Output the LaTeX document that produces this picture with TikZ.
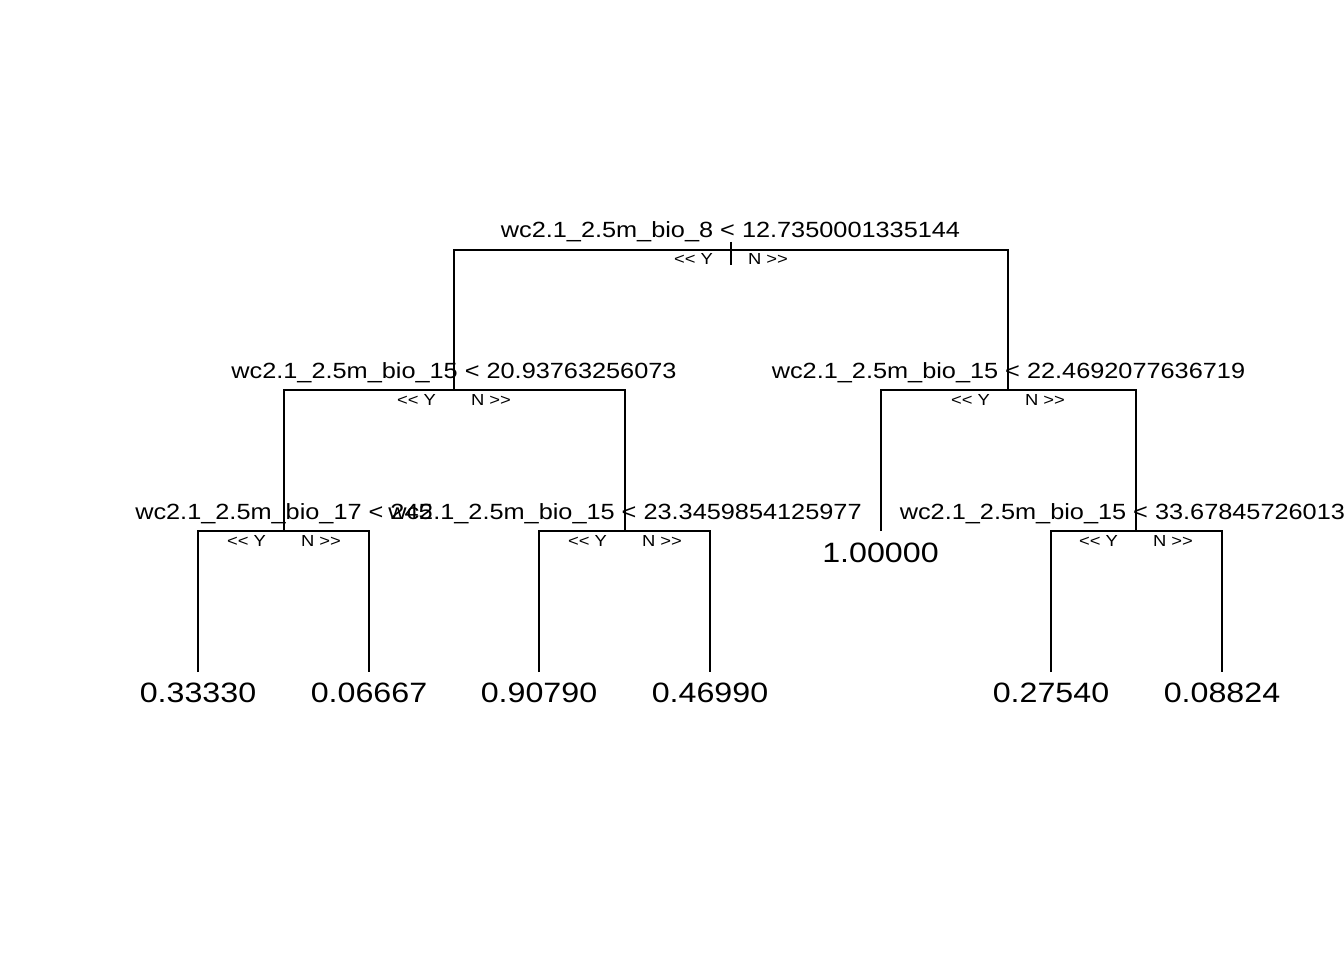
\documentclass[tikz,border=0pt]{standalone}
\usepackage{fontspec}
\newfontfamily\rf[FakeStretch=1.15]{Liberation Sans}
\begin{document}
\begin{tikzpicture}[x=1pt,y=-1pt,line width=2pt,
  splitlab/.style={font=\rf\fontsize{22}{26}\selectfont,anchor=base,inner sep=0pt},
  leaflab/.style={font=\rf\fontsize{28}{32}\selectfont,anchor=base,inner sep=0pt},
  ylab/.style={font=\rf\fontsize{16}{19}\selectfont,anchor=base east,inner sep=0pt},
  nlab/.style={font=\rf\fontsize{16}{19}\selectfont,anchor=base west,inner sep=0pt},
  edge/.style={draw=black,line width=2pt}]
\useasboundingbox (0,0) rectangle (1344,960);
\clip (0,0) rectangle (1344,960);
% tree node positions
\coordinate (n1) at (731,250);
\coordinate (n2) at (454,390);
\coordinate (n3) at (1008,390);
\coordinate (n4) at (284,531);
\coordinate (n5) at (625,531);
\coordinate (n6) at (881,531);
\coordinate (n7) at (1136,531);
\coordinate (n8) at (198,672);
\coordinate (n9) at (369,672);
\coordinate (n10) at (539,672);
\coordinate (n11) at (710,672);
\coordinate (n12) at (1051,672);
\coordinate (n13) at (1222,672);
\coordinate (rt) at (731,242);
\coordinate (rb) at (731,265);
% connectors
\draw[edge] (rt) -- (rb);
\draw[edge] (n2) |- (n1) -| (n3);
\draw[edge] (n4) |- (n2) -| (n5);
\draw[edge] (n6) |- (n3) -| (n7);
\draw[edge] (n8) |- (n4) -| (n9);
\draw[edge] (n10) |- (n5) -| (n11);
\draw[edge] (n12) |- (n7) -| (n13);
% split labels
\node[splitlab] (s1) at (730.5,238) {wc2.1\_2.5m\_bio\_8 < 12.7350001335144};
\node[splitlab] (s2) at (454,378) {wc2.1\_2.5m\_bio\_15 < 20.93763256073};
\node[splitlab] (s3) at (1008.5,378) {wc2.1\_2.5m\_bio\_15 < 22.4692077636719};
\node[splitlab] (s4) at (284,519) {wc2.1\_2.5m\_bio\_17 < 245};
\node[splitlab] (s5) at (625,519) {wc2.1\_2.5m\_bio\_15 < 23.3459854125977};
\node[splitlab] (s7) at (1136.5,519) {wc2.1\_2.5m\_bio\_15 < 33.6784572601318};
% Y / N labels
\node[ylab] (y1) at (714,265) {<< Y};
\node[nlab] (m1) at (747,265) {N >>};
\node[ylab] (y2) at (437,405) {<< Y};
\node[nlab] (m2) at (470,405) {N >>};
\node[ylab] (y3) at (991,405) {<< Y};
\node[nlab] (m3) at (1024,405) {N >>};
\node[ylab] (y4) at (267,546) {<< Y};
\node[nlab] (m4) at (300,546) {N >>};
\node[ylab] (y5) at (608,546) {<< Y};
\node[nlab] (m5) at (641,546) {N >>};
\node[ylab] (y7) at (1119,546) {<< Y};
\node[nlab] (m7) at (1152,546) {N >>};
% leaf labels
\node[leaflab] (f6) at (880.5,562) {1.00000};
\node[leaflab] (f8) at (198,702) {0.33330};
\node[leaflab] (f9) at (369,702) {0.06667};
\node[leaflab] (f10) at (539,702) {0.90790};
\node[leaflab] (f11) at (710,702) {0.46990};
\node[leaflab] (f12) at (1051,702) {0.27540};
\node[leaflab] (f13) at (1222,702) {0.08824};
\end{tikzpicture}
\end{document}
